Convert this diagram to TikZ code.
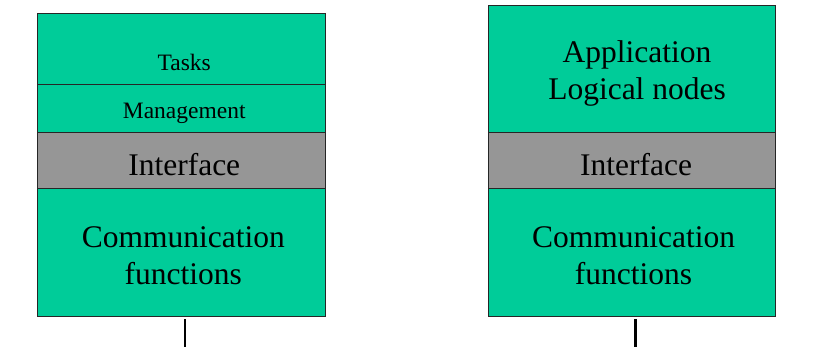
\documentclass[tikz,border=0pt]{standalone}
\usepackage{fontspec}
\setmainfont{Liberation Serif}
\usetikzlibrary{positioning}
\definecolor{layergreen}{RGB}{0,204,153}
\definecolor{ifacegray}{RGB}{150,150,150}

\begin{document}
\begin{tikzpicture}[x=1pt, y=-1pt,
    layer/.style={rectangle, draw=black!85, line width=1pt, fill=layergreen,
      inner sep=0pt, outer sep=0pt, minimum width=287.5pt},
    iface/.style={layer, fill=ifacegray, minimum height=56pt},
    bigtext/.style={align=center, inner sep=0pt, font=\fontsize{31.5}{37}\selectfont},
    smalltext/.style={inner sep=0pt, font=\fontsize{23.5}{28}\selectfont},
    busline/.style={black, line width=2.7pt}]
    \useasboundingbox (0,0) rectangle (835,347);

    % Left stack
    \node[layer, anchor=north west, minimum height=71pt] (ltasks) at (37.5,14) {};
    \node[layer, minimum height=48pt, below=0pt of ltasks] (lmgmt) {};
    \node[iface, below=0pt of lmgmt] (liface) {};
    \node[layer, minimum height=127pt, below=0pt of liface] (lcomm) {};
    \node[smalltext] (ltasks-t) at ([shift={(3,13)}]ltasks.center) {Tasks};
    \node[smalltext] (lmgmt-t) at ([shift={(3,4)}]lmgmt.center) {Management};
    \node[bigtext] (liface-t) at ([shift={(3,3.5)}]liface.center) {Interface};
    \node[bigtext] (lcomm-t) at ([shift={(2,3.5)}]lcomm.center) {Communication\\functions};

    % Right stack
    \node[layer, anchor=north west, minimum height=127.5pt] (rapp) at (488.3,5.5) {};
    \node[iface, below=0pt of rapp] (riface) {};
    \node[layer, minimum height=127pt, below=0pt of riface] (rcomm) {};
    \node[bigtext] (rapp-t) at ([shift={(5,4)}]rapp.center) {Application\\Logical nodes};
    \node[bigtext] (riface-t) at ([shift={(4,3.5)}]riface.center) {Interface};
    \node[bigtext] (rcomm-t) at ([shift={(1.5,3.5)}]rcomm.center) {Communication\\functions};

    % Bus stubs
    \coordinate (lbus) at (185,348);
    \coordinate (rbus) at (635.5,348);
    \draw[busline] (lbus |- lcomm.south) ++(0,3) -- (lbus);
    \draw[busline] (rbus |- rcomm.south) ++(0,3) -- (rbus);
\end{tikzpicture}
\end{document}
